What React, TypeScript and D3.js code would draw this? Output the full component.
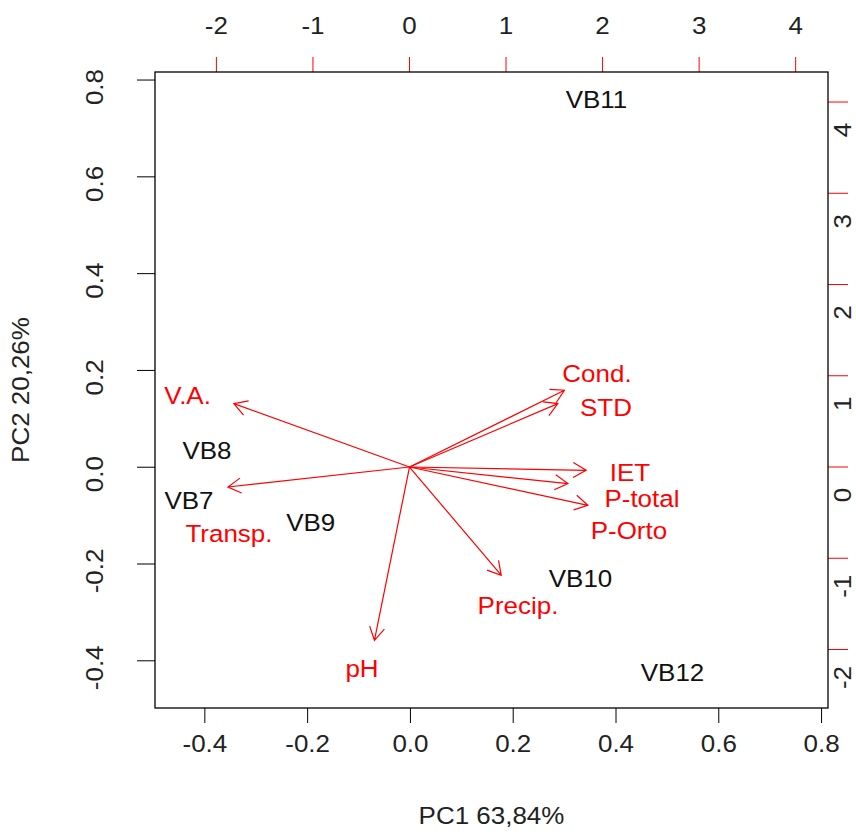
import React, { useEffect, useRef } from 'react';
import * as d3 from 'd3';

// observations (scores, bottom/left axes)
const obsNames = ['VB11', 'VB8', 'VB7', 'VB9', 'VB10', 'VB12'];
const obsPC1 = [0.362, -0.396, -0.431, -0.194, 0.331, 0.51];
const obsPC2 = [0.759, 0.0355, -0.068, -0.115, -0.229, -0.425];

// variables (loadings, top/right axes)
const varNames = ['V.A.', 'Transp.', 'Cond.', 'STD', 'IET', 'P-total', 'P-Orto', 'Precip.', 'pH'];
const varArrowX = [-1.819, -1.881, 1.605, 1.537, 1.83, 1.641, 1.848, 0.95, -0.363];
const varArrowY = [0.695, -0.219, 0.841, 0.695, -0.036, -0.182, -0.42, -1.186, -1.899];
const varLabelX = [-2.299, -1.87, 1.942, 2.035, 2.284, 2.408, 2.273, 1.124, -0.492];
const varLabelY = [0.789, -0.723, 1.03, 0.658, -0.055, -0.34, -0.69, -1.512, -2.203];

const pcTicks = [-0.4, -0.2, 0, 0.2, 0.4, 0.6, 0.8];
const loadTicks = [-2, -1, 0, 1, 2, 3, 4];

const xTitle = 'PC1 63,84%';
const yTitle = 'PC2 20,26%';

const W = 856;
const H = 835;
const box = { left: 155, right: 828, top: 72, bottom: 708 };
const RED = '#ff0000';
const FONT = '"Liberation Sans", Arial, sans-serif';
const FS = 24.5;
const SX = 1.06; // the picture is slightly wider than tall

const App: React.FC = () => {
  const svgRef = useRef<SVGSVGElement>(null);

  useEffect(() => {
    if (!svgRef.current) return;
    const svg = d3.select(svgRef.current);
    svg.selectAll('*').remove();

    const x = d3.scaleLinear().domain([-0.497, 0.8125]).range([box.left, box.right]);
    const y = d3.scaleLinear().domain([-0.4975, 0.8166]).range([box.bottom, box.top]);
    const x2 = d3.scaleLinear().domain([-2.636, 4.335]).range([box.left, box.right]);
    const y2 = d3.scaleLinear().domain([-2.641, 4.329]).range([box.bottom, box.top]);

    svg.append('rect')
      .attr('width', W).attr('height', H).attr('fill', '#fff');

    const g = svg.append('g')
      .attr('font-family', FONT)
      .attr('font-size', FS);

    const label = (px: number, py: number, txt: string, color: string, rotate = false) => {
      g.append('text')
        .attr('transform', rotate
          ? `translate(${px}, ${py}) rotate(-90) scale(${SX}, 1)`
          : `translate(${px}, ${py}) scale(${SX}, 1)`)
        .attr('dy', '0.35em')
        .attr('text-anchor', 'middle')
        .attr('fill', color)
        .text(txt);
    };

    const fmt = (t: number) => t.toFixed(1);

    // bottom axis
    pcTicks.forEach((t) => {
      g.append('line')
        .attr('x1', x(t)).attr('x2', x(t))
        .attr('y1', box.bottom).attr('y2', box.bottom + 15)
        .attr('stroke', '#000');
      label(x(t), 743, fmt(t), '#222');
    });

    // left axis
    pcTicks.forEach((t) => {
      g.append('line')
        .attr('x1', box.left - 18).attr('x2', box.left)
        .attr('y1', y(t)).attr('y2', y(t))
        .attr('stroke', '#000');
      label(94, y(t) + 7, fmt(t), '#222', true);
    });

    // top axis (loadings)
    loadTicks.forEach((t) => {
      g.append('line')
        .attr('x1', x2(t)).attr('x2', x2(t))
        .attr('y1', box.top - 15).attr('y2', box.top)
        .attr('stroke', RED);
      label(x2(t), 25, String(t), '#222');
    });

    // right axis (loadings)
    loadTicks.forEach((t) => {
      g.append('line')
        .attr('x1', box.right).attr('x2', box.right + 20)
        .attr('y1', y2(t)).attr('y2', y2(t))
        .attr('stroke', RED);
      label(842, y2(t) + 28, String(t), '#222', true);
    });

    // box
    g.append('rect')
      .attr('x', box.left).attr('y', box.top)
      .attr('width', box.right - box.left)
      .attr('height', box.bottom - box.top)
      .attr('fill', 'none')
      .attr('stroke', '#000')
      .attr('stroke-width', 1.3);

    // axis titles
    label((box.left + box.right) / 2, 815, xTitle, '#222');
    label(20, (box.top + box.bottom) / 2, yTitle, '#222', true);

    // observation labels
    obsNames.forEach((name, i) => {
      label(x(obsPC1[i]), y(obsPC2[i]), name, '#111');
    });

    // arrows
    const x0 = x2(0);
    const y0 = y2(0);
    const headLen = 15;
    varNames.forEach((name, i) => {
      const tx = x2(varArrowX[i]);
      const ty = y2(varArrowY[i]);
      const a = Math.atan2(ty - y0, tx - x0);
      const b1 = a + Math.PI - Math.PI / 6;
      const b2 = a + Math.PI + Math.PI / 6;
      const p = d3.path();
      p.moveTo(x0, y0);
      p.lineTo(tx, ty);
      p.moveTo(tx + headLen * Math.cos(b1), ty + headLen * Math.sin(b1));
      p.lineTo(tx, ty);
      p.lineTo(tx + headLen * Math.cos(b2), ty + headLen * Math.sin(b2));
      g.append('path')
        .attr('d', p.toString())
        .attr('fill', 'none')
        .attr('stroke', RED)
        .attr('stroke-width', 1.2);

      label(x2(varLabelX[i]), y2(varLabelY[i]), name, RED);
    });
  }, []);

  return (
    <svg
      ref={svgRef}
      width={W}
      height={H}
      style={{ position: 'absolute', left: 0, top: 0 }}
    />
  );
};

export default App;
